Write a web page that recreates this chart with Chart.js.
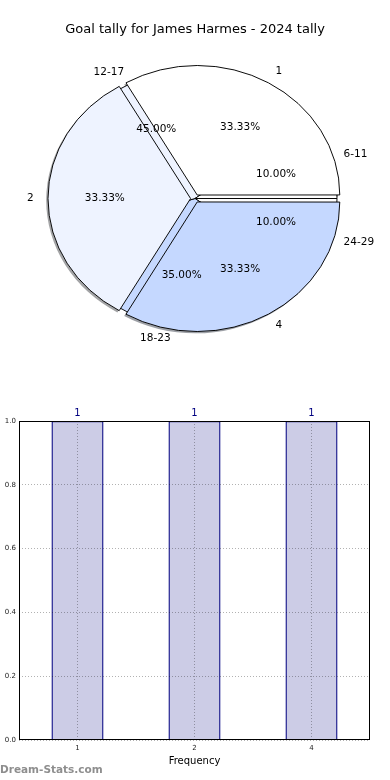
<!DOCTYPE html>
<html>
<head>
<meta charset="utf-8">
<script src="https://cdn.jsdelivr.net/npm/chart.js@4/dist/chart.umd.min.js"></script>
<style>
  html, body { margin: 0; padding: 0; background: #fff; }
  #wrap { position: relative; width: 390px; height: 780px; overflow: hidden; font-family: "DejaVu Sans", sans-serif; }
  canvas { position: absolute; left: 0; }
  #title { position: absolute; top: 21px; left: 0; width: 390px; text-align: center; font-size: 13px; color: #000; }
  #wm { position: absolute; left: 0; top: 763px; font-size: 10.5px; font-weight: bold; color: #8e8e8e; }
</style>
</head>
<body>
<div id="wrap">
  <canvas id="shadow" width="390" height="397" style="top:0"></canvas>
  <canvas id="back" width="390" height="397" style="top:0"></canvas>
  <canvas id="front" width="390" height="397" style="top:0"></canvas>
  <canvas id="bars" width="390" height="400" style="top:380px"></canvas>
  <div id="title">Goal tally for James Harmes - 2024 tally</div>
  <div id="wm">Dream-Stats.com</div>
</div>
<script>
// ---- data ----
const goalLabels = ['1', '2', '4'];
const goalValues = [1, 1, 1];
const rangeLabels = ['6-11', '12-17', '18-23', '24-29'];
const rangeValues = [10, 45, 35, 10];
const barLabels = ['1', '2', '4'];
const barValues = [1, 1, 1];
const yTickValues = [0, 0.2, 0.4, 0.6, 0.8, 1.0];

// ---- styling ----
const goalColors = ['#ffffff', '#eef3ff', '#c5d8ff'];
const rangeColors = ['#ffffff', '#eef3ff', '#c5d8ff', '#ffffff'];
const RX = 142, K = 129 / 142;
const EXPLODE = 5;
const OFFSET_OPT = EXPLODE * 4 / (2 - Math.sin(2 * Math.PI / 3));
const FONT = '"DejaVu Sans", sans-serif';

function rev(a) { return a.slice().reverse(); }
function shadeColor(hex) {
  const r = parseInt(hex.slice(1, 3), 16), g = parseInt(hex.slice(3, 5), 16), b = parseInt(hex.slice(5, 7), 16);
  return `rgba(${Math.round(r * 0.3)},${Math.round(g * 0.3)},${Math.round(b * 0.3)},0.5)`;
}

function ellipsePlugin(dx, dy) {
  return {
    id: 'ellipse',
    beforeDatasetsDraw(chart) {
      const a = chart.chartArea, ctx = chart.ctx;
      const cx = (a.left + a.right) / 2, cy = (a.top + a.bottom) / 2;
      ctx.save();
      ctx.translate(cx + dx, cy + dy);
      ctx.scale(1, K);
      ctx.translate(-cx, -cy);
    },
    afterDatasetsDraw(chart) { chart.ctx.restore(); }
  };
}

function pieConfig(labels, values, colors, border, offset, dx, dy, extraPlugins) {
  return {
    type: 'pie',
    data: {
      labels: rev(labels),
      datasets: [{
        data: rev(values),
        backgroundColor: rev(colors),
        borderColor: border ? '#000000' : 'rgba(0,0,0,0)',
        borderWidth: border ? 1 : 0,
        offset: offset,
        hoverOffset: 0,
        radius: RX
      }]
    },
    options: {
      responsive: false,
      devicePixelRatio: 1,
      animation: false,
      events: [],
      rotation: 90,
      radius: RX,
      layout: { padding: 0 },
      plugins: { legend: { display: false }, tooltip: { enabled: false }, title: { display: false } }
    },
    plugins: [ellipsePlugin(dx, dy)].concat(extraPlugins || [])
  };
}

const shadowChart = new Chart(document.getElementById('shadow'),
  pieConfig(goalLabels, goalValues, goalColors.map(shadeColor), false, OFFSET_OPT, -1.8, 1.8));
const backChart = new Chart(document.getElementById('back'),
  pieConfig(rangeLabels, rangeValues, rangeColors, true, 0, 0, 0));

const labelPlugin = {
  id: 'pieLabels',
  afterDraw(chart) {
    const ctx = chart.ctx;
    const a = chart.chartArea;
    const cy = (a.top + a.bottom) / 2;
    ctx.save();
    ctx.font = '10.5px ' + FONT;
    ctx.fillStyle = '#000';
    ctx.textBaseline = 'middle';
    [backChart, chart].forEach(c => {
      const meta = c.getDatasetMeta(0);
      const vals = c.data.datasets[0].data;
      const labs = c.data.labels;
      const total = vals.reduce((s, v) => s + v, 0);
      meta.data.forEach((arc, i) => {
        const p = arc.getProps(['x', 'y', 'startAngle', 'endAngle', 'outerRadius'], true);
        const mid = (p.startAngle + p.endAngle) / 2;
        const circ = p.endAngle - p.startAngle;
        const off = arc.options.offset || 0;
        const eff = off / 4 * (2 - Math.sin(Math.min(Math.PI, circ)));
        const ox = p.x + eff * Math.cos(mid), oy = p.y + eff * Math.sin(mid);
        const R = p.outerRadius;
        const lx = ox + 1.1 * R * Math.cos(mid);
        const ly = cy + (oy + 1.1 * R * Math.sin(mid) - cy) * K;
        ctx.textAlign = Math.cos(mid) > 0 ? 'left' : 'right';
        ctx.fillText(labs[i], lx, ly);
        const px = ox + 0.6 * R * Math.cos(mid);
        const py = cy + (oy + 0.6 * R * Math.sin(mid) - cy) * K;
        ctx.textAlign = 'center';
        ctx.fillText((vals[i] / total * 100).toFixed(2) + '%', px, py);
      });
    });
    ctx.restore();
  }
};

const frontChart = new Chart(document.getElementById('front'),
  pieConfig(goalLabels, goalValues, goalColors, true, OFFSET_OPT, 0, 0, [labelPlugin]));

// ---- bar chart ----
const boxPlugin = {
  id: 'box',
  afterDraw(chart) {
    const a = chart.chartArea, ctx = chart.ctx;
    ctx.save();
    ctx.strokeStyle = '#000';
    ctx.lineWidth = 1;
    ctx.strokeRect(Math.round(a.left) + 0.5, Math.round(a.top) + 0.5, Math.round(a.right - a.left) - 1, Math.round(a.bottom - a.top) - 1);
    const meta = chart.getDatasetMeta(0);
    ctx.fillStyle = '#000080';
    ctx.font = '10px ' + FONT;
    ctx.textAlign = 'center';
    ctx.textBaseline = 'bottom';
    meta.data.forEach((bar, i) => {
      ctx.fillText(String(chart.data.datasets[0].data[i]), bar.x, bar.y - 3);
    });
    ctx.restore();
  }
};

new Chart(document.getElementById('bars'), {
  type: 'bar',
  data: {
    labels: barLabels,
    datasets: [{
      data: barValues,
      backgroundColor: 'rgba(0,0,128,0.2)',
      borderColor: '#000080',
      borderWidth: 1.3,
      barPercentage: 0.445,
      categoryPercentage: 1
    }]
  },
  options: {
    responsive: false,
    devicePixelRatio: 1,
    animation: false,
    events: [],
    layout: { padding: { top: 41, right: 20, left: 0, bottom: 0 } },
    plugins: { legend: { display: false }, tooltip: { enabled: false } },
    scales: {
      x: {
        offset: true,
        grid: { offset: false, color: 'rgba(0,0,0,0.3)', lineWidth: 1, drawTicks: false, z: 1 },
        border: { display: false, dash: [1, 2] },
        ticks: { font: { family: FONT, size: 7 }, color: '#222', padding: 4 },
        title: { display: true, text: 'Frequency', font: { family: FONT, size: 10 }, color: '#000', padding: { top: 2, bottom: 13 } },
        afterFit(s) { s.height = 40; }
      },
      y: {
        min: 0, max: 1,
        afterBuildTicks(s) { s.ticks = yTickValues.map(v => ({ value: v })); },
        grid: { color: 'rgba(0,0,0,0.3)', lineWidth: 1, drawTicks: false, z: 1 },
        border: { display: false, dash: [1, 2] },
        ticks: { font: { family: FONT, size: 7 }, color: '#222', padding: 3, callback: v => Number(v).toFixed(1) },
        afterFit(s) { s.width = 19; }
      }
    }
  },
  plugins: [boxPlugin]
});
</script>
</body>
</html>
